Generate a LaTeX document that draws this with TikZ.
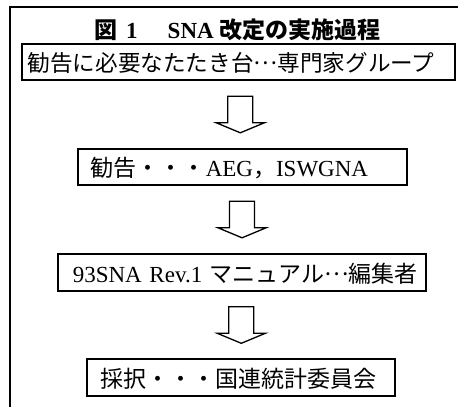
\documentclass[tikz,border=0pt]{standalone}
\usepackage{fontspec}
\setmainfont{Liberation Serif}
\newfontfamily\cjk{Noto Sans CJK JP}
\usetikzlibrary{calc}
\newcommand{\midell}{\raisebox{.32em}{\cjk …}}
\begin{document}
\begin{tikzpicture}[x=1pt,y=-1pt,
  boxnode/.style={draw, line width=1.6pt, anchor=north west, inner ysep=0pt,
    text height=28pt, text depth=8pt, align=left,
    font=\fontsize{23}{25}\selectfont},
  frameline/.style={line width=1.5pt},
  titlenode/.style={anchor=base, inner sep=0pt, font=\fontsize{23}{25}\selectfont\bfseries},
  blockarrow/.pic={
    \draw[line width=1.3pt, line join=miter]
      (-12.5,-18) -- (12.5,-18) -- (12.5,8.5) -- (24,8.5) -- (0,18.5)
      -- (-24,8.5) -- (-12.5,8.5) -- cycle;
  }]
\useasboundingbox (0,0) rectangle (458,407);
\coordinate (fb) at (10,408);
\coordinate (ftl) at (10,7);
\coordinate (fr) at (459,7);
\draw[frameline] (fb) -- (ftl) -- (fr);

\node[titlenode] (title) at (237.5,38)
  {{\cjk 図}\hspace{9pt}1\hspace{30pt}SNA\hspace{6pt}{\cjk 改定の実施過程}};

\node[boxnode, inner xsep=6pt, text width=421pt, font=\fontsize{22.6}{25}\selectfont] (b1) at (21,43)
  {\mbox{{\cjk 勧告に必要なたたき台}\midell{\cjk 専門家グループ}}};
\node[boxnode, inner xsep=13pt, text width=303pt] (b2) at (77,148)
  {\mbox{{\cjk 勧告・・・}AEG{\cjk ，}ISWGNA}};
\node[boxnode, inner xsep=15pt, text width=338pt, text height=29pt] (b3) at (57,253)
  {\mbox{93SNA Rev.1 {\cjk マニュアル}\midell{\cjk 編集者}}};
\node[boxnode, inner xsep=14pt, text width=280pt, text height=29pt] (b4) at (86,358)
  {\mbox{\cjk 採択・・・国連統計委員会}};

\pic at ($(b1.south)!0.5!(b2.north)$) {blockarrow};
\pic at ($(b2.south)!0.5!(b3.north)$) {blockarrow};
\pic at ($(b3.south)!0.5!(b4.north)$) {blockarrow};
\end{tikzpicture}
\end{document}
